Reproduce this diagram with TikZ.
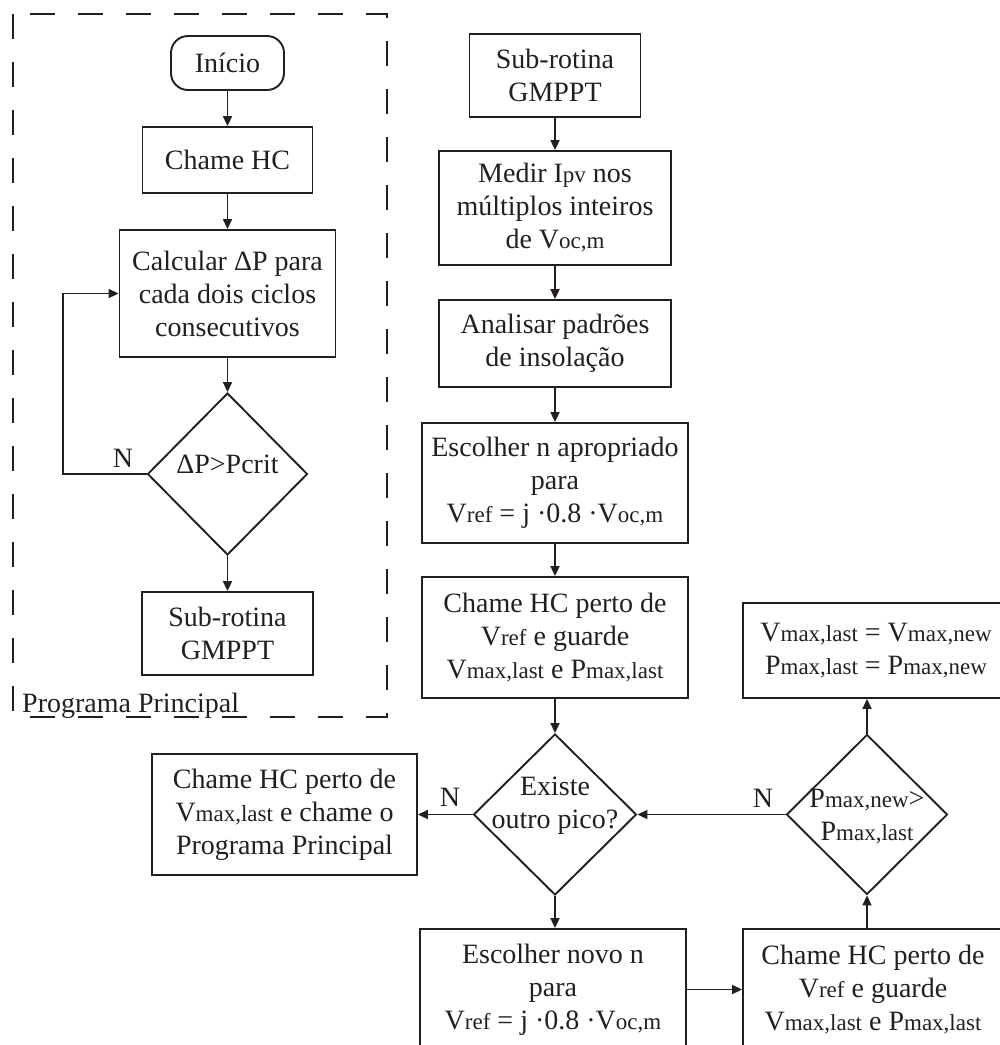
\documentclass[tikz,border=0pt]{standalone}
\usepackage{fontspec}
\setmainfont{Liberation Serif}
\usetikzlibrary{shapes.geometric,arrows.meta}
\definecolor{ink}{HTML}{231F20}
% smaller letters used for the indices (pv, oc,m, ref, max,last ...)
\newcommand\sm[1]{{\fontsize{23}{26}\selectfont #1}}
\tikzset{
  txt/.style={text=ink, align=center, inner sep=0pt, font=\fontsize{28}{33}\selectfont},
  box/.style={txt, draw=ink, line width=1.9pt, rectangle},
  startbox/.style={box, rounded corners=17pt},
  dia/.style={draw=ink, line width=1.9pt, diamond, inner sep=0pt},
  arr/.style={draw=ink, line width=1.9pt, -{Triangle[length=10pt,width=9pt]}},
  frame/.style={draw=ink, line width=1.9pt, dash pattern=on 25pt off 23pt},
}
\begin{document}
\begin{tikzpicture}[x=1pt,y=-1pt]
\useasboundingbox (0,0) rectangle (1000,1045);
\clip (0,0) rectangle (1000,1045);

% ---------- main program (left column) ----------
\draw[frame] (13,14) rectangle (387,717);
\node[txt, anchor=base west] (lbl) at (22,712) {Programa Principal};

\node[startbox, minimum width=113pt, minimum height=54pt] (start) at (227.5,63) {Início};
\node[box, minimum width=170pt, minimum height=66pt] (chc) at (227.5,160) {Chame HC};
\node[box, minimum width=216pt, minimum height=127pt] (calc) at (227.5,293.5)
  {Calcular ΔP para\\cada dois ciclos\\consecutivos};
\node[dia, minimum width=160pt, minimum height=162pt] (d1) at (227.5,474) {};
\node[txt] (d1t) at (227.5,464) {ΔP>Pcrit};
\node[box, minimum width=171pt, minimum height=83pt] (sub1) at (227.5,633.5)
  {Sub-rotina\\GMPPT};

\draw[arr] (start) -- (chc);
\draw[arr] (chc) -- (calc);
\draw[arr] (calc) -- (d1);
\draw[arr] (d1) -- (sub1);
\draw[arr] (d1.west) -- ++(-84,0) coordinate (lp) |- (calc.west);
\node[txt] (n1) at (123,458) {N};

% ---------- GMPPT sub-routine (right column) ----------
\node[box, minimum width=171pt, minimum height=83pt] (sub2) at (555,75.5)
  {Sub-rotina\\GMPPT};
\node[box, minimum width=232pt, minimum height=114pt] (med) at (555,208)
  {Medir I\sm{pv} nos\\múltiplos inteiros\\de V\sm{oc,m}};
\node[box, minimum width=232pt, minimum height=87pt] (ana) at (555,343.5)
  {Analisar padrões\\de insolação};
\node[box, minimum width=266pt, minimum height=120pt] (esc) at (555,483)
  {Escolher n apropriado\\para\\V\sm{ref} = j ·0.8 ·V\sm{oc,m}};
\node[box, minimum width=266pt, minimum height=121pt] (chp) at (555,637.5)
  {Chame HC perto de\\V\sm{ref} e guarde\\V\sm{max,last} e P\sm{max,last}};
\node[dia, minimum width=163pt, minimum height=161pt] (d2) at (555,814.5) {};
\node[txt] (d2t) at (555,806) {Existe\\outro pico?};
\node[box, minimum width=265pt, minimum height=121pt] (lb) at (284.5,814.5)
  {Chame HC perto de\\V\sm{max,last} e chame o\\Programa Principal};
\node[box, minimum width=266pt, minimum height=121pt] (nov) at (553,989.5)
  {Escolher novo n\\para\\V\sm{ref} = j ·0.8 ·V\sm{oc,m}};
\node[box, minimum width=260pt, minimum height=121pt] (rhc) at (873,989.5)
  {Chame HC perto de\\V\sm{ref} e guarde\\V\sm{max,last} e P\sm{max,last}};
\node[dia, minimum width=161pt, minimum height=160pt] (d3) at (867,814.5) {};
\node[txt] (d3t) at (867,817) {P\sm{max,new}>\\P\sm{max,last}};
\node[box, minimum width=266pt, minimum height=95pt] (tr) at (876,650.5)
  {V\sm{max,last} = V\sm{max,new}\\P\sm{max,last} = P\sm{max,new}};

\draw[arr] (sub2) -- (med);
\draw[arr] (med) -- (ana);
\draw[arr] (ana) -- (esc);
\draw[arr] (esc) -- (chp);
\draw[arr] (chp) -- (d2);
\draw[arr] (d2.west) -- (lb.east);
\node[txt] (n2) at (450,797) {N};
\draw[arr] (d2.south) -- (d2.south |- nov.north);
\draw[arr] (nov.east) -- (rhc.west);
\draw[arr] (rhc.north -| d3.south) -- (d3.south);
\draw[arr] (d3.north) -- (d3.north |- tr.south);
\draw[arr] (d3.west) -- (d2.east);
\node[txt] (n3) at (763,798) {N};
\end{tikzpicture}
\end{document}
